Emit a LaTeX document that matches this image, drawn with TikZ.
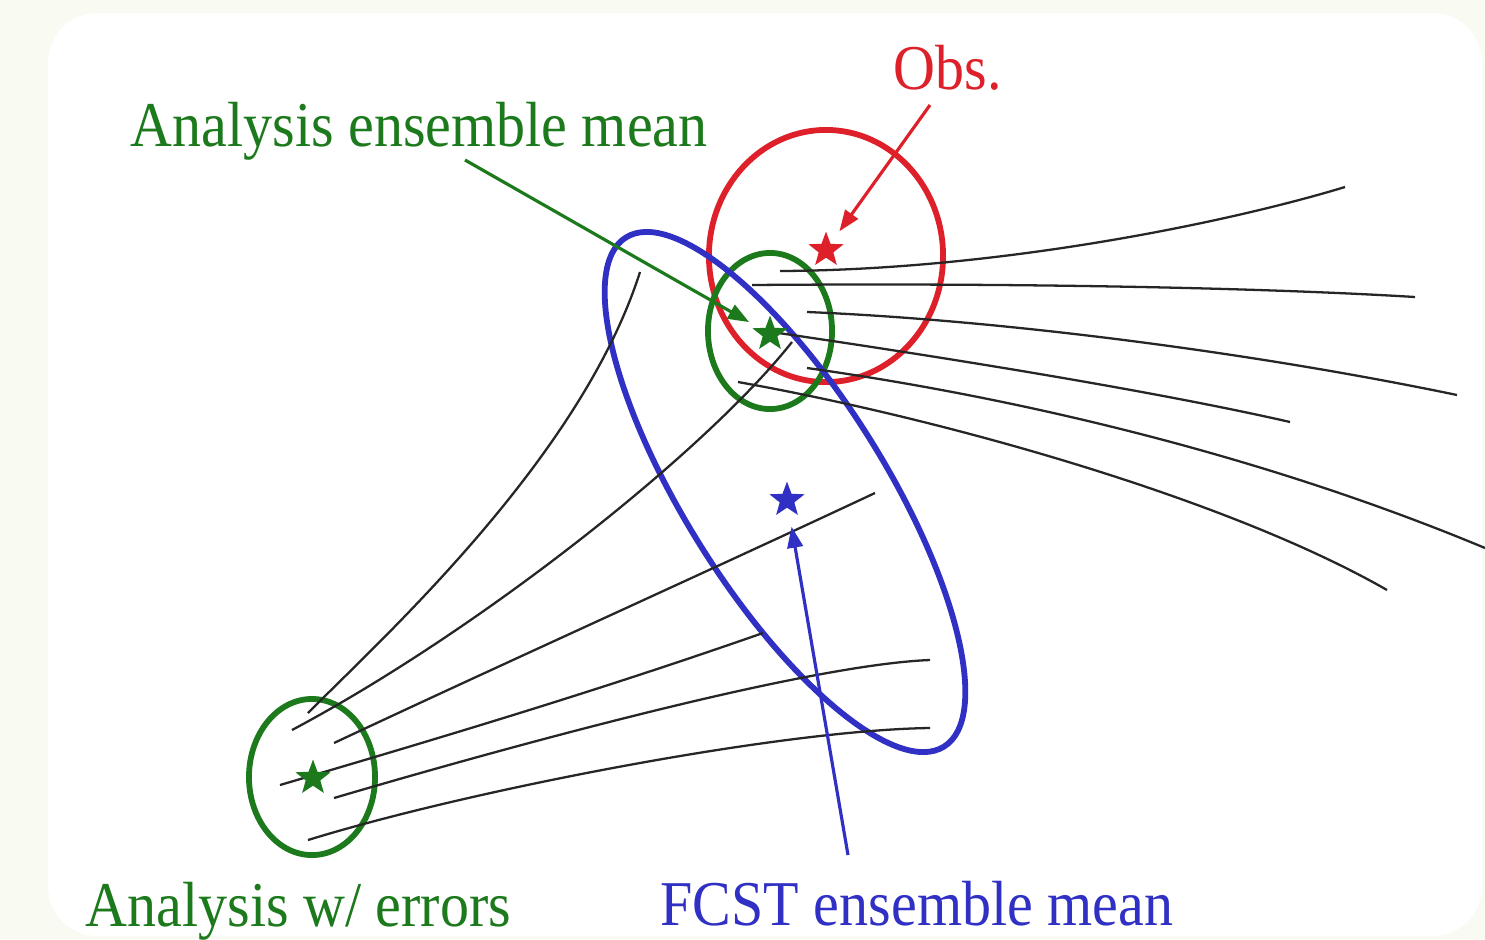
\documentclass[tikz,border=0pt]{standalone}
\usepackage{graphicx}
\usepackage{fontspec}
\setmainfont{Liberation Serif}
\usetikzlibrary{positioning,shapes.geometric,arrows.meta}
\definecolor{bgcream}{RGB}{249,250,241}
\definecolor{ensgreen}{RGB}{28,122,28}
\definecolor{obsred}{RGB}{222,32,42}
\definecolor{fcstblue}{RGB}{48,48,196}
\newcommand{\tallfont}[1]{\scalebox{1}[1.1]{#1}}

\begin{document}
\begin{tikzpicture}[x=0.01cm,y=-0.01cm,
  lbl/.style={font=\fontsize{16.5}{20}\selectfont,inner sep=0pt,anchor=base west},
  spread/.style={draw,ellipse,line width=1.65pt,inner sep=0pt},
  ensstar/.style={star,star points=5,star point ratio=2.4,fill,draw=none,inner sep=0pt,minimum size=10.5pt},
  traj/.style={black!85,line width=0.65pt},
  ptr/.style={line width=0.9pt,-{Triangle[length=6pt,width=4.4pt]}}]
\useasboundingbox (0,0) rectangle (1485,939);
\fill[bgcream] (0,0) rectangle (1485,939);
\fill[white,rounded corners=14pt] (48,13) rectangle (1482,936);

% error spreads
\node[spread,draw=obsred,minimum width=2.34cm,minimum height=2.52cm] (obsspread) at (826,256) {};
\node[spread,draw=ensgreen,minimum width=1.24cm,minimum height=1.56cm] (aemspread) at (770,331) {};
\node[spread,draw=ensgreen,minimum width=1.26cm,minimum height=1.56cm] (errspread) at (312,777) {};
\node[spread,draw=fcstblue,minimum width=6cm,minimum height=2cm,rotate=-58] (fcstspread) at (785,492) {};

% trajectories from the perturbed analyses
\draw[traj] (308,713) .. controls (380,640) and (580,460) .. (640,272);
\draw[traj] (292,730) .. controls (480,630) and (705,452) .. (792,342);
\draw[traj] (334,743) .. controls (500,665) and (700,575) .. (875,493);
\draw[traj] (280,785) .. controls (450,735) and (600,690) .. (763,633);
\draw[traj] (334,798) .. controls (480,755) and (800,665) .. (930,660);
\draw[traj] (308,840) .. controls (470,790) and (780,730) .. (930,728);
% trajectories from the analysis mean
\draw[traj] (780,271) .. controls (1000,270) and (1230,222) .. (1345,187);
\draw[traj] (752,285) .. controls (1000,283) and (1250,287) .. (1415,297);
\draw[traj] (807,312) .. controls (1000,320) and (1250,352) .. (1457,395);
\draw[traj] (758,330) .. controls (930,355) and (1150,390) .. (1290,422);
\draw[traj] (807,368) .. controls (1000,395) and (1250,450) .. (1485,548);
\draw[traj] (738,382) .. controls (950,420) and (1230,500) .. (1387,590);

% means
\node[ensstar,fill=obsred] (obsstar) at (826,250) {};
\node[ensstar,fill=ensgreen] (aemstar) at (770,334) {};
\node[ensstar,fill=ensgreen] (errstar) at (313,778) {};
\node[ensstar,fill=fcstblue] (fcststar) at (787,500) {};

% labels
\node[lbl,text=ensgreen] (aemlabel) at (130,146) {\tallfont{Analysis ensemble mean}};
\node[lbl,text=obsred] (obslabel) at (893,89) {\tallfont{Obs.}};
\node[lbl,text=ensgreen] (errlabel) at (85,926) {\tallfont{Analysis w/ errors}};
\node[lbl,text=fcstblue] (fcstlabel) at (660,925) {\tallfont{FCST ensemble mean}};

\coordinate (aemtail) at (465,160);
\coordinate (obstail) at (930,105);
\coordinate (fcsttail) at (848,855);
\draw[ptr,ensgreen,shorten >=0.24cm] (aemtail) -- (aemstar.center);
\draw[ptr,obsred,shorten >=0.23cm] (obstail) -- (obsstar.center);
\draw[ptr,fcstblue,shorten >=0.27cm] (fcsttail) -- (fcststar.center);
\end{tikzpicture}
\end{document}
